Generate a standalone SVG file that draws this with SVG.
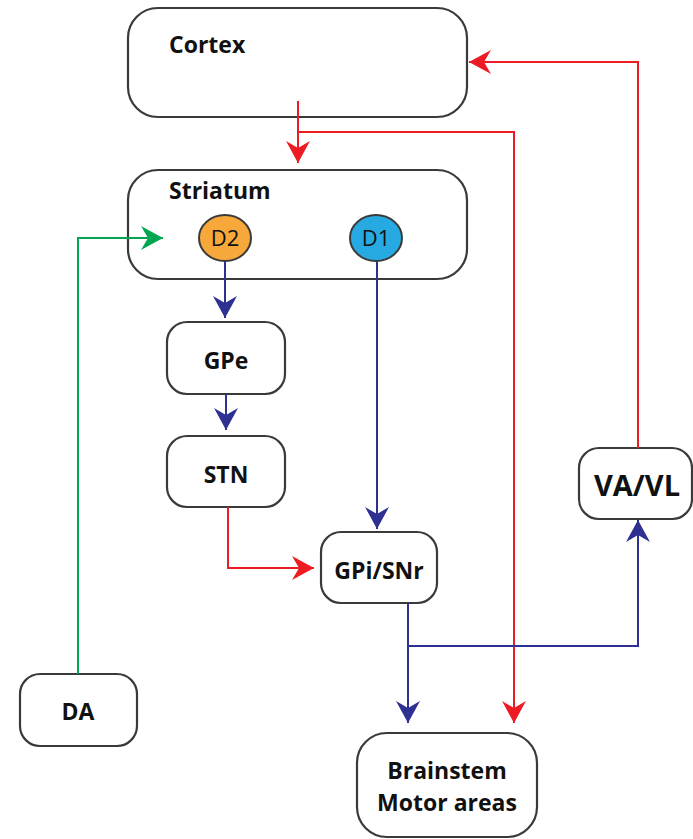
<svg xmlns="http://www.w3.org/2000/svg" width="693" height="839" viewBox="0 0 693 839">
<style>
.box{fill:#fff;stroke:#3a3a3a;stroke-width:2.2}
.lbl{font-family:"Open Sans","Liberation Sans",sans-serif;font-weight:bold;font-size:23px;fill:#111}
.c{text-anchor:middle}
.red{stroke:#ED1C24;stroke-width:2;fill:none}
.blue{stroke:#2E3192;stroke-width:2;fill:none}
.green{stroke:#00A651;stroke-width:2;fill:none}
.dl{font-family:"Open Sans","Liberation Sans",sans-serif;font-size:22px;fill:#111;text-anchor:middle}
</style>
<defs>
<marker id="ar" viewBox="0 0 22 24" refX="22" refY="12" markerWidth="22" markerHeight="24" markerUnits="userSpaceOnUse" orient="auto"><path d="M0,0 L22,12 L0,24 L7,12 Z" fill="#ED1C24"/></marker>
<marker id="ab" viewBox="0 0 22 24" refX="22" refY="12" markerWidth="22" markerHeight="24" markerUnits="userSpaceOnUse" orient="auto"><path d="M0,0 L22,12 L0,24 L7,12 Z" fill="#2E3192"/></marker>
<marker id="ag" viewBox="0 0 22 24" refX="22" refY="12" markerWidth="22" markerHeight="24" markerUnits="userSpaceOnUse" orient="auto"><path d="M0,0 L22,12 L0,24 L7,12 Z" fill="#00A651"/></marker>
</defs>
<g id="cortex">
<rect class="box" x="128" y="8" width="339" height="109" rx="30"/>
<text class="lbl" x="169" y="53">Cortex</text>
</g>
<g id="striatum">
<rect class="box" x="128" y="170" width="339" height="109" rx="30"/>
<text class="lbl" x="169" y="199">Striatum</text>
</g>
<g id="d2">
<ellipse cx="225" cy="238" rx="26" ry="23" fill="#F7A83B" stroke="#3a3a3a" stroke-width="2"/>
<text class="dl" x="225" y="246">D2</text>
</g>
<g id="d1">
<ellipse cx="376" cy="238" rx="26" ry="23" fill="#27AAE1" stroke="#3a3a3a" stroke-width="2"/>
<text class="dl" x="376" y="246">D1</text>
</g>
<g id="gpe">
<rect class="box" x="167" y="322" width="118" height="72" rx="20"/>
<text class="lbl c" x="226" y="369">GPe</text>
</g>
<g id="stn">
<rect class="box" x="167" y="436" width="118" height="71" rx="20"/>
<text class="lbl c" x="226" y="483">STN</text>
</g>
<g id="gpi">
<rect class="box" x="321" y="532" width="116" height="71" rx="20"/>
<text class="lbl c" x="379" y="579">GPi/SNr</text>
</g>
<g id="vavl">
<rect class="box" x="579" y="448" width="113" height="71" rx="20"/>
<text class="lbl c" x="637" y="496" style="font-size:29px">VA/VL</text>
</g>
<g id="da">
<rect class="box" x="20" y="674" width="117" height="72" rx="20"/>
<text class="lbl c" x="78" y="720">DA</text>
</g>
<g id="brainstem">
<rect class="box" x="357" y="733" width="180" height="104" rx="30"/>
<text class="lbl c" x="447" y="779">Brainstem</text>
<text class="lbl c" x="447" y="811">Motor areas</text>
</g>
<g id="connectors">
<path class="red" d="M298,101 V163" marker-end="url(#ar)"/>
<path class="red" d="M298,132 H514 V723" marker-end="url(#ar)"/>
<path class="red" d="M638,448 V62 H469" marker-end="url(#ar)"/>
<path class="red" d="M228,507 V568 H314" marker-end="url(#ar)"/>
<path class="green" d="M78,674 V238 H163" marker-end="url(#ag)"/>
<path class="blue" d="M225,261 V318" marker-end="url(#ab)"/>
<path class="blue" d="M226,394 V430" marker-end="url(#ab)"/>
<path class="blue" d="M377,261 V529" marker-end="url(#ab)"/>
<path class="blue" d="M408,603 V723" marker-end="url(#ab)"/>
<path class="blue" d="M408,646 H638 V520" marker-end="url(#ab)"/>
</g>
</svg>
